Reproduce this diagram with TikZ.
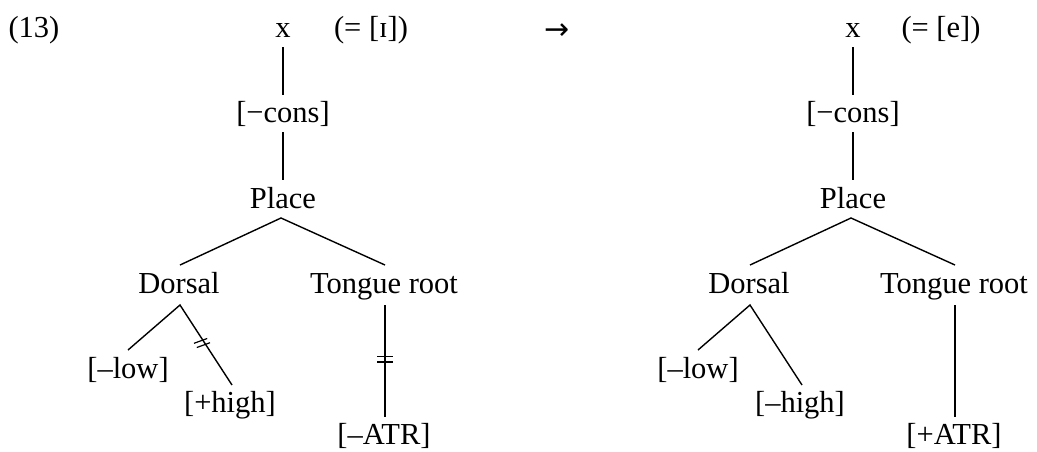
\documentclass[tikz,border=0pt]{standalone}
\usepackage{fontspec}
\setmainfont{Liberation Serif}
\newfontfamily\arrowfont{DejaVu Sans}
\begin{document}
\begin{tikzpicture}[x=1pt,y=-1pt,
  lab/.style={anchor=base,inner sep=0pt,font=\fontsize{30.5}{36}\selectfont},
  br/.style={line width=1.4pt,line cap=butt},
  tick/.style={line width=1.2pt}]
\useasboundingbox (0,0) rectangle (1037,451);
\node[lab] (ex) at (34,37) {(13)};
\node[lab] (arr) at (557,39) {\arrowfont\fontsize{30}{34}\selectfont →};
\foreach \o/\p/\hs/\as/\L in {0/ɪ/+/–/A,570/e/–/+/B}{
  \begin{scope}[xshift=\o pt]
  \node[lab] (x\L) at (283,37) {x};
  \node[lab] (eq\L) at (371,37) {(= [\p])};
  \node[lab] (cons\L) at (283,122) {[−cons]};
  \node[lab] (place\L) at (283,208) {Place};
  \node[lab] (dor\L) at (179,293) {Dorsal};
  \node[lab] (tr\L) at (384,293) {Tongue root};
  \node[lab] (low\L) at (128,378) {[–low]};
  \node[lab] (high\L) at (230,412) {[\hs high]};
  \node[lab] (atr\L) at (384,444) {[\as ATR]};
  \coordinate (xb\L) at (283,47);
  \coordinate (ct\L) at (283,95);
  \coordinate (cb\L) at (283,132);
  \coordinate (pt\L) at (283,180);
  \coordinate (pb\L) at (281,218);
  \coordinate (dt\L) at (180,265);
  \coordinate (tt\L) at (385,265);
  \coordinate (db\L) at (180,305);
  \coordinate (lt\L) at (128,350);
  \coordinate (ht\L) at (232,385);
  \coordinate (tb\L) at (385,305);
  \coordinate (at\L) at (385,417);
  \draw[br] (xb\L) -- (ct\L);
  \draw[br] (cb\L) -- (pt\L);
  \draw[br] (dt\L) -- (pb\L) -- (tt\L);
  \draw[br] (lt\L) -- (db\L) -- (ht\L);
  \draw[br] (tb\L) -- (at\L);
  \end{scope}
}
% delinking marks on the left tree
\draw[tick] (377,356.5) -- (393,356.5);
\draw[tick] (377,362) -- (393,362);
\draw[tick] (194,343.3) -- (207.2,338.5);
\draw[tick] (196.8,347.5) -- (210,342.7);
\end{tikzpicture}
\end{document}
